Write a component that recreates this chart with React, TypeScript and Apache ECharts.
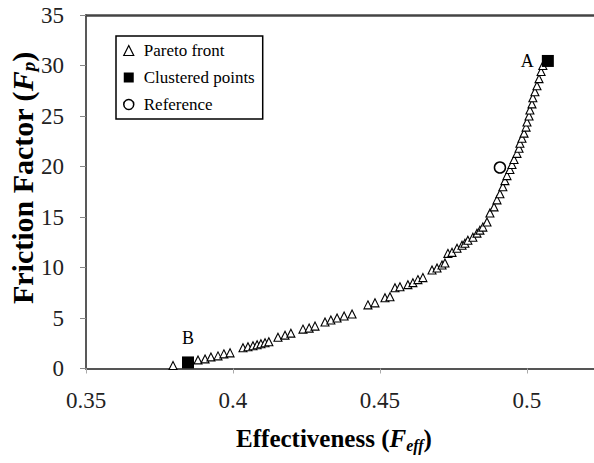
import React, { useEffect, useRef } from "react";
import * as echarts from "echarts";

// Pareto front (effectiveness, friction factor)
const paretoX = [
  0.3796, 0.3881, 0.3905, 0.3925, 0.3949, 0.3969, 0.399, 0.4034, 0.4051, 0.4068,
  0.4082, 0.4095, 0.4109, 0.4122, 0.4153, 0.4177, 0.4197, 0.4238, 0.4259, 0.4279,
  0.4313, 0.4333, 0.4354, 0.4378, 0.4405, 0.4459, 0.4483, 0.4517, 0.4534, 0.4551,
  0.4568, 0.4595, 0.4612, 0.4629, 0.4646, 0.4677, 0.4694, 0.4711, 0.4721, 0.4731,
  0.4745, 0.4762, 0.4779, 0.4789, 0.4799, 0.4816, 0.483, 0.484, 0.485, 0.4864,
  0.4874, 0.4888, 0.4898, 0.4908, 0.4918, 0.4925, 0.4932, 0.4942, 0.4949, 0.4956,
  0.4966, 0.4973, 0.4976, 0.4983, 0.499, 0.4997, 0.5, 0.5007, 0.501, 0.5017,
  0.502, 0.5027, 0.5034, 0.5041, 0.5048, 0.5054,
];
const paretoY = [
  0.3, 0.85, 0.95, 1.15, 1.25, 1.45, 1.55, 2.05, 2.15, 2.25,
  2.35, 2.45, 2.55, 2.65, 3.1, 3.3, 3.5, 3.9, 4.0, 4.2,
  4.6, 4.8, 5.0, 5.2, 5.4, 6.3, 6.5, 7.0, 7.1, 8.0,
  8.1, 8.3, 8.5, 8.8, 9.0, 9.75, 9.95, 10.25, 10.45, 11.4,
  11.5, 11.9, 12.2, 12.4, 12.7, 13.0, 13.4, 13.7, 14.0, 14.5,
  15.4, 16.0, 16.7, 17.3, 18.0, 18.6, 19.1, 19.7, 20.2, 20.7,
  21.3, 21.8, 22.3, 22.8, 23.3, 23.9, 24.4, 25.0, 25.6, 26.2,
  26.8, 27.4, 28.0, 28.7, 29.4, 30.0,
];

// Clustered points
const clusteredX = [0.3847, 0.5071];
const clusteredY = [0.6, 30.45];
const clusteredLabels = ["B", "A"];

// Reference design
const referenceX = [0.4908];
const referenceY = [19.9];

// Axis ticks
const xTicks = [0.35, 0.4, 0.45, 0.5];
const yTicks = [0, 5, 10, 15, 20, 25, 30, 35];

const SERIF = "Liberation Serif";

export default function App() {
  const ref = useRef<HTMLDivElement>(null);

  useEffect(() => {
    if (!ref.current) return;
    const chart = echarts.init(ref.current, null, { renderer: "svg" });

    const xMin = xTicks[0];
    const xMax = 0.5228;
    const yMin = yTicks[0];
    const yMax = yTicks[yTicks.length - 1];

    const pareto = paretoX.map((x, i) => [x, paretoY[i]]);
    const clustered = clusteredX.map((x, i) => ({
      value: [x, clusteredY[i]],
      label: {
        show: true,
        formatter: clusteredLabels[i],
        position: clusteredLabels[i] === "A" ? "left" : "top",
        distance: clusteredLabels[i] === "A" ? 8 : 9,
        color: "#000",
        fontFamily: SERIF,
        fontSize: 18,
      },
    }));
    const reference = referenceX.map((x, i) => [x, referenceY[i]]);

    chart.setOption({
      animation: false,
      backgroundColor: "#fff",
      textStyle: { fontFamily: SERIF },
      grid: { left: 86, right: 0, top: 15, bottom: 94.5, containLabel: false },
      xAxis: [
        {
          type: "value",
          min: xMin,
          max: xMax,
          interval: 0.05,
          axisLine: { show: true, lineStyle: { color: "#555", width: 2 } },
          axisTick: { show: true, inside: false, length: 5, lineStyle: { color: "#aaa", width: 1 } },
          splitLine: { show: false },
          axisLabel: {
            show: true,
            margin: 20,
            showMaxLabel: false,
            color: "#222",
            fontFamily: SERIF,
            fontSize: 23,
            formatter: (v: number) => String(+v.toFixed(2)),
          },
        },
        {
          type: "value",
          position: "top",
          min: xMin,
          max: xMax,
          axisLine: { show: true, onZero: false, lineStyle: { color: "#444", width: 2.5 } },
          axisTick: { show: false },
          axisLabel: { show: false },
          splitLine: { show: false },
        },
      ],
      yAxis: {
        type: "value",
        min: yMin,
        max: yMax,
        interval: 5,
        axisLine: { show: true, onZero: false, lineStyle: { color: "#222", width: 1.5 } },
        axisTick: { show: true, inside: false, length: 6, lineStyle: { color: "#888", width: 1 } },
        splitLine: { show: false },
        axisLabel: {
          margin: 22,
          color: "#222",
          fontFamily: SERIF,
          fontSize: 23,
        },
      },
      legend: {
        show: true,
        orient: "vertical",
        left: 116,
        top: 36,
        padding: [6, 8, 6, 7],
        itemGap: 10,
        itemWidth: 10,
        itemHeight: 10,
        borderColor: "#000",
        borderWidth: 1.5,
        backgroundColor: "#fff",
        textStyle: { fontFamily: SERIF, fontSize: 17, color: "#000", padding: [0, 0, 0, 5] },
        data: [
          { name: "Pareto front", icon: "triangle", itemStyle: { color: "#fff", borderColor: "#000", borderWidth: 1.2 } },
          { name: "Clustered points", icon: "rect", itemStyle: { color: "#000", borderColor: "#000", borderWidth: 0 } },
          { name: "Reference", icon: "circle", itemStyle: { color: "#fff", borderColor: "#000", borderWidth: 1.5 } },
        ],
      },
      series: [
        {
          name: "Pareto front",
          type: "scatter",
          symbol: "triangle",
          symbolSize: 8,
          data: pareto,
          itemStyle: { color: "#fff", borderColor: "#000", borderWidth: 1.1, opacity: 1 },
          z: 2,
        },
        {
          name: "Clustered points",
          type: "scatter",
          symbol: "rect",
          symbolSize: 12,
          data: clustered,
          itemStyle: { color: "#000", borderColor: "#000", borderWidth: 0, opacity: 1 },
          z: 4,
        },
        {
          name: "Reference",
          type: "scatter",
          symbol: "circle",
          symbolSize: 11,
          data: reference,
          itemStyle: { color: "#fff", borderColor: "#000", borderWidth: 1.5, opacity: 1 },
          z: 3,
        },
      ],
      graphic: [
        {
          type: "text",
          x: 334,
          y: 438,
          style: {
            text: "{b|Effectiveness (}{i|F}{s|eff}{b|)}",
            align: "center",
            verticalAlign: "middle",
            textAlign: "center",
            textVerticalAlign: "middle",
            rich: {
              b: { fontFamily: SERIF, fontSize: 25, fontWeight: "bold", fill: "#000", color: "#000", lineHeight: 30, verticalAlign: "middle" },
              i: { fontFamily: SERIF, fontSize: 25, fontWeight: "bold", fontStyle: "italic", fill: "#000", color: "#000", lineHeight: 30, verticalAlign: "middle" },
              s: { fontFamily: SERIF, fontSize: 16, fontWeight: "bold", fontStyle: "italic", fill: "#000", color: "#000", lineHeight: 16, verticalAlign: "bottom" },
            },
          },
        },
        {
          type: "text",
          x: 22,
          y: 178,
          rotation: Math.PI / 2,
          style: {
            text: "{b|Friction Factor (}{i|F}{s|p}{b|)}",
            align: "center",
            verticalAlign: "middle",
            textAlign: "center",
            textVerticalAlign: "middle",
            rich: {
              b: { fontFamily: SERIF, fontSize: 30, fontWeight: "bold", fill: "#000", color: "#000", lineHeight: 32, verticalAlign: "middle" },
              i: { fontFamily: SERIF, fontSize: 30, fontWeight: "bold", fontStyle: "italic", fill: "#000", color: "#000", lineHeight: 32, verticalAlign: "middle" },
              s: { fontFamily: SERIF, fontSize: 19, fontWeight: "bold", fontStyle: "italic", fill: "#000", color: "#000", lineHeight: 17, verticalAlign: "bottom" },
            },
          },
        },
      ],
    });

    return () => chart.dispose();
  }, []);

  return (
    <>
      <style>{`#root svg text { font-family: "Liberation Serif", "Times New Roman", serif !important; }`}</style>
      <div
        ref={ref}
        style={{ position: "fixed", left: 0, top: 0, width: 594, height: 463, background: "#fff" }}
      />
    </>
  );
}
